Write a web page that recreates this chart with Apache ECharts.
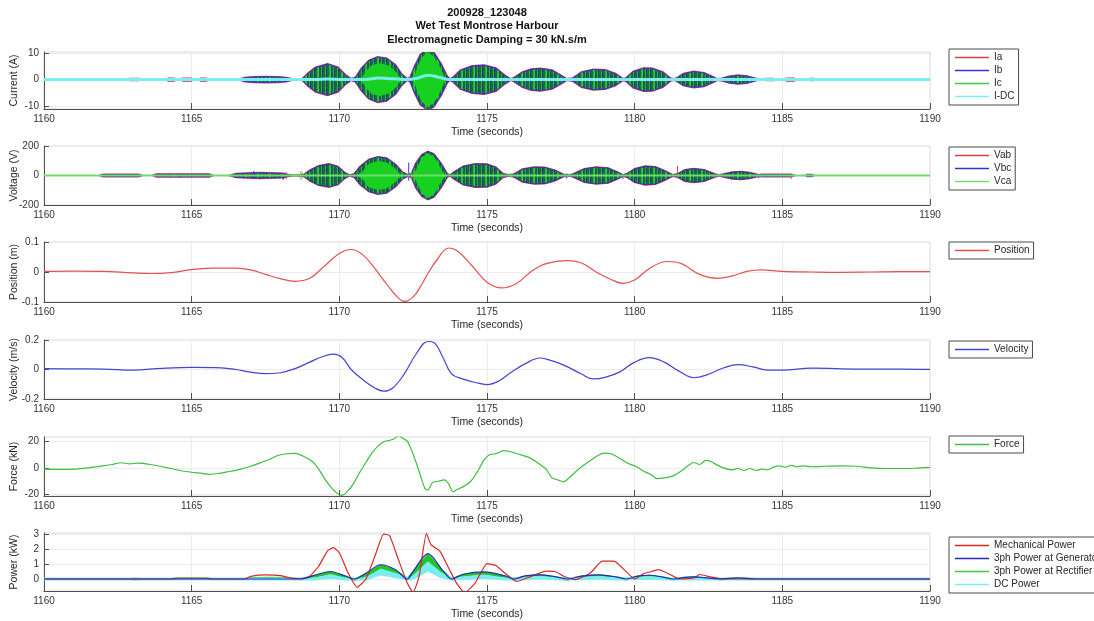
<!DOCTYPE html>
<html>
<head>
<meta charset="utf-8">
<script src="https://cdn.jsdelivr.net/npm/echarts@6/dist/echarts.min.js"></script>
<style>
  html, body { margin: 0; padding: 0; background: #fff; }
  #main { width: 1094px; height: 621px; }
</style>
</head>
<body>
<div id="main"></div>
<script>
// ---- data ----
var timeRange = [1160, 1190];

// current envelope (A): [time, amplitude]
var curEnv = [[1160,0],[1162.85,0],[1162.9,0.3],[1163.2,0.3],[1163.25,0],[1164.15,0],[1164.2,0.4],[1164.4,0.4],[1164.45,0],
  [1164.65,0],[1164.7,0.4],[1165.0,0.4],[1165.05,0],[1165.25,0],[1165.3,0.4],[1165.5,0.4],[1165.55,0],
  [1166.6,0],[1166.8,0.7],[1167.1,1.0],[1167.5,1.1],[1167.9,1.0],[1168.2,0.7],[1168.4,0.2],[1168.55,0],
  [1168.75,0.3],[1168.95,2.5],[1169.2,4.6],[1169.6,5.9],[1169.95,4.6],[1170.2,1.8],[1170.4,0.2],
  [1170.55,0.8],[1170.75,4.2],[1171.0,7.2],[1171.3,8.5],[1171.6,8.0],[1171.9,5.5],[1172.1,2.2],[1172.3,0.2],
  [1172.4,0.8],[1172.55,5],[1172.75,9.5],[1173.0,11.4],[1173.2,10.2],[1173.45,5.8],[1173.65,1.2],[1173.75,0.2],
  [1173.85,0.8],[1174.1,3.5],[1174.5,5.1],[1174.9,5.4],[1175.3,4.3],[1175.6,1.6],[1175.8,0.2],
  [1175.9,0.6],[1176.2,2.8],[1176.5,3.9],[1176.8,4.2],[1177.2,3.5],[1177.5,1.6],[1177.7,0.2],
  [1177.9,0.5],[1178.2,2.8],[1178.6,3.8],[1179.0,3.6],[1179.35,2.2],[1179.6,0.3],
  [1179.7,0.5],[1179.95,3.0],[1180.3,4.3],[1180.6,4.2],[1180.95,2.8],[1181.2,0.6],[1181.3,0.2],
  [1181.4,0.4],[1181.65,2.2],[1182.0,3.0],[1182.35,2.5],[1182.65,1.0],[1182.8,0.2],
  [1182.95,0.4],[1183.2,1.2],[1183.5,1.6],[1183.8,1.3],[1184.1,0.4],[1184.2,0],
  [1184.4,0],[1184.45,0.3],[1184.7,0.3],[1184.75,0],[1185.1,0],[1185.15,0.4],[1185.4,0.4],[1185.45,0],
  [1185.9,0],[1185.95,0.3],[1186.05,0.3],[1186.1,0],[1190,0]];
// solid green core of Ic in the two biggest bursts
var icCore = [[1160,0],[1170.7,0],[1170.9,3],[1171.1,5.5],[1171.4,6.2],[1171.7,5.2],[1171.95,2.5],[1172.1,0],
  [1172.5,0],[1172.65,5],[1172.8,8.5],[1173.0,10.3],[1173.2,8.8],[1173.4,5],[1173.6,0],[1190,0]];
var curDC = [[1160,0],[1169.2,0],[1169.6,0.2],[1170.1,0],[1170.9,0],[1171.3,0.6],[1171.8,0.3],[1172.3,0],
  [1172.6,0.4],[1173.0,1.6],[1173.4,0.8],[1173.7,0],[1190,0]];

// voltage envelope (V)
var voltEnv = [[1160,0],[1161.9,0],[1162.0,6],[1163.2,6],[1163.3,0],[1163.7,0],[1163.8,8],[1165.6,8],[1165.7,0],
  [1166.3,0],[1166.5,12],[1167.3,18],[1168.1,14],[1168.3,4],[1168.5,0],
  [1168.8,5],[1169.0,35],[1169.3,65],[1169.65,78],[1169.95,60],[1170.2,15],[1170.35,2],
  [1170.5,10],[1170.7,60],[1171.0,108],[1171.3,126],[1171.6,118],[1171.9,75],[1172.15,20],[1172.35,2],
  [1172.45,15],[1172.6,85],[1172.8,140],[1173.0,162],[1173.2,145],[1173.45,80],[1173.65,10],[1173.75,2],
  [1173.9,25],[1174.2,62],[1174.6,78],[1175.0,76],[1175.3,55],[1175.55,10],[1175.8,2],
  [1175.95,12],[1176.2,42],[1176.6,56],[1176.95,54],[1177.3,35],[1177.6,5],[1177.8,2],
  [1177.95,12],[1178.3,45],[1178.7,56],[1179.1,50],[1179.45,20],[1179.6,2],
  [1179.75,12],[1180.0,45],[1180.35,62],[1180.7,58],[1181.0,32],[1181.3,3],
  [1181.45,10],[1181.7,38],[1182.0,46],[1182.35,38],[1182.7,10],[1182.85,2],
  [1183.0,8],[1183.3,22],[1183.6,26],[1183.9,18],[1184.2,4],[1184.3,6],[1185.3,6],[1185.4,0],
  [1185.8,0],[1185.85,5],[1186.0,5],[1186.05,0],[1190,0]];
var vcaCore = [[1160,0],[1170.6,0],[1170.8,30],[1171.0,80],[1171.3,98],[1171.6,88],[1171.9,45],[1172.1,0],
  [1172.5,0],[1172.65,60],[1172.8,125],[1173.0,150],[1173.2,130],[1173.4,60],[1173.6,0],[1190,0]];
var vcaBase = [[1160,0],[1190,0]];
// switching spikes: [time, low, high]
var vabSpikes = [[1166.95,-18,15],[1167.6,-10,20],[1168.2,-25,22],[1168.75,-15,18],[1172.5,-28,20],[1181.45,-10,65],[1185.3,-22,5]];
var vbcSpikes = [[1164.6,-15,10],[1166.75,-20,15],[1167.1,-25,30],[1168.1,-30,12],[1172.35,-35,88],[1177.7,-20,15],[1179.6,-25,10],[1184.2,-18,8]];
var vcaSpikes = [[1164.4,-12,12],[1168.7,-30,30],[1169.0,-10,22],[1172.45,-20,25],[1175.8,-15,18]];

// position (m)
var pos = [[1160,0.002],[1161,0.003],[1162,0.002],[1163,-0.003],[1163.6,-0.005],[1164.3,-0.002],[1165,0.008],
  [1165.8,0.013],[1166.5,0.013],[1167,0.007],[1167.5,-0.008],[1168,-0.022],[1168.5,-0.031],[1169,-0.021],
  [1169.5,0.02],[1170,0.062],[1170.4,0.075],[1170.8,0.057],[1171.2,0.012],[1171.6,-0.04],[1172,-0.087],
  [1172.2,-0.098],[1172.5,-0.083],[1172.8,-0.04],[1173.0,-0.005],[1173.3,0.04],[1173.7,0.08],[1174.0,0.07],
  [1174.5,0.02],[1175,-0.034],[1175.5,-0.053],[1176,-0.038],[1176.5,0.002],[1177,0.028],[1177.7,0.038],
  [1178.2,0.03],[1178.7,0.0],[1179.2,-0.025],[1179.6,-0.038],[1180,-0.027],[1180.5,0.012],[1181.1,0.035],
  [1181.6,0.027],[1182.2,-0.008],[1182.8,-0.021],[1183.3,-0.013],[1183.8,0.002],[1184.3,0.007],[1185,0.002],
  [1186,0],[1187,-0.001],[1188,0],[1189,0.001],[1190,0.001]];

// velocity (m/s)
var vel = [[1160,0.006],[1161,0.004],[1162,0.003],[1163,-0.004],[1164,0.008],[1165,0.014],[1166,0.011],
  [1166.5,0],[1167,-0.018],[1167.5,-0.028],[1168,-0.022],[1168.5,0.006],[1169,0.05],[1169.4,0.085],
  [1169.8,0.104],[1170.1,0.08],[1170.4,0.0],[1170.8,-0.07],[1171.2,-0.125],[1171.5,-0.147],[1171.8,-0.127],
  [1172.2,-0.03],[1172.6,0.105],[1173.0,0.19],[1173.2,0.183],[1173.5,0.085],[1173.8,-0.03],[1174.2,-0.065],
  [1174.6,-0.088],[1175,-0.102],[1175.4,-0.078],[1175.8,-0.022],[1176.3,0.04],[1176.8,0.078],[1177.1,0.065],
  [1177.6,0.03],[1178.2,-0.031],[1178.6,-0.064],[1179,-0.053],[1179.5,-0.016],[1180,0.05],[1180.5,0.08],
  [1181,0.05],[1181.5,-0.011],[1182,-0.056],[1182.4,-0.04],[1183,0.01],[1183.5,0.033],[1184,0.018],
  [1184.5,-0.004],[1185,-0.004],[1186,0.01],[1187,0.004],[1188,0.002],[1189,0.003],[1190,0.001]];

// force (kN)
var force = [[1160,-1],[1160.5,-1.2],[1161,-1],[1161.5,0],[1162,1.5],[1162.3,2.5],[1162.6,3.8],[1162.9,3.0],
  [1163.2,3.5],[1163.6,2.5],[1164,0.8],[1164.3,-0.5],[1164.6,-2],[1165,-3.3],[1165.3,-4],[1165.6,-4.8],
  [1165.9,-4.2],[1166.2,-3],[1166.6,-1.3],[1167,1.2],[1167.3,3.5],[1167.6,6],[1167.9,9],[1168.2,10.5],
  [1168.5,10.8],[1168.8,8.5],[1169.1,4.5],[1169.3,-1],[1169.5,-8],[1169.7,-14],[1169.9,-18.5],[1170.1,-20.5],
  [1170.3,-17],[1170.5,-11],[1170.7,-3],[1170.9,4],[1171.1,11],[1171.3,16],[1171.5,19.5],[1171.7,20.5],
  [1171.85,21.5],[1172,24],[1172.15,22],[1172.3,20],[1172.45,13],[1172.6,4],[1172.75,-6],[1172.9,-15.5],
  [1173.0,-16.5],[1173.15,-11],[1173.35,-10],[1173.55,-9],[1173.7,-12],[1173.85,-18],[1174.0,-16],
  [1174.2,-14],[1174.45,-10],[1174.7,-2],[1174.9,6],[1175.1,10],[1175.3,10.5],[1175.55,12.8],[1175.8,12],
  [1176.1,10],[1176.4,8],[1176.7,4],[1177.0,-1],[1177.2,-7.5],[1177.4,-9],[1177.6,-10.5],[1177.8,-7],
  [1178.1,-1],[1178.4,4],[1178.7,8.5],[1178.95,11],[1179.2,10.5],[1179.5,7],[1179.8,3],[1180.05,1],
  [1180.3,-2.5],[1180.55,-5],[1180.75,-8],[1181.0,-7.5],[1181.3,-6],[1181.6,-2],[1181.8,1.5],[1182.0,4],
  [1182.2,2.5],[1182.4,5.5],[1182.6,4.5],[1182.8,2],[1183.0,0],[1183.3,-1.5],[1183.5,-0.5],[1183.7,-2],
  [1183.9,-0.5],[1184.1,-2],[1184.3,-1],[1184.5,-1.5],[1184.7,0.5],[1184.9,1.5],[1185.1,0.5],[1185.3,1.8],
  [1185.5,0.8],[1185.7,1.5],[1186,0.8],[1186.5,1.2],[1187,1.5],[1187.5,1.2],[1188,0],[1188.5,-0.5],
  [1189,-0.5],[1189.5,-0.3],[1190,0.3]];

// power (kW)
var mechPower = [[1160,0],[1164.3,0],[1164.5,0.05],[1165.5,0.05],[1165.7,0],[1166.8,0],[1167.0,0.18],[1167.5,0.27],
  [1168.0,0.22],[1168.5,0.02],[1168.8,0.05],[1169.0,0.18],[1169.3,0.85],[1169.6,1.87],[1169.8,2.09],[1170.0,1.75],
  [1170.3,0.4],[1170.6,-0.55],[1170.9,0],[1171.2,1.5],[1171.5,3.0],[1171.7,2.9],[1172.0,1.3],[1172.3,-0.27],
  [1172.5,-0.9],[1172.7,0.18],[1172.95,3.05],[1173.1,2.3],[1173.4,1.87],[1173.7,0.74],[1174.0,-0.38],
  [1174.25,-0.9],[1174.6,-0.27],[1175.0,1.03],[1175.3,0.9],[1175.6,0.4],[1176.0,-0.16],[1176.5,0.18],
  [1177.0,0.52],[1177.3,0.5],[1177.6,0.18],[1178.0,-0.04],[1178.5,0.4],[1178.9,1.19],[1179.3,1.19],
  [1179.7,0.52],[1180.0,0],[1180.3,0.36],[1180.6,0.52],[1180.8,0.63],[1181.2,0.3],[1181.5,0],[1182.0,0.07],
  [1182.2,0.3],[1182.6,0.13],[1183.0,0],[1190,0]];
var genPower = [[1160,0],[1168.7,0],[1169.2,0.27],[1169.7,0.5],[1170.2,0.2],[1170.5,0],[1170.9,0.38],[1171.4,0.95],
  [1171.9,0.62],[1172.3,0],[1172.5,0.52],[1173.0,1.7],[1173.5,0.58],[1173.8,0],[1174.2,0.32],[1174.9,0.47],
  [1175.6,0.22],[1175.9,0],[1176.3,0.21],[1176.8,0.28],[1177.3,0.16],[1177.7,0],[1178.2,0.19],[1178.8,0.28],
  [1179.4,0.13],[1179.7,0],[1180.1,0.19],[1180.5,0.25],[1181.0,0.11],[1181.3,0],[1181.7,0.11],[1182.0,0.14],
  [1182.5,0.06],[1182.9,0],[1183.5,0.08],[1184.1,0],[1190,0]];
// [time, low, high] of the ripple band
var rectBand = [[1160,0,0],[1162.9,0,0],[1163.0,-0.04,0.04],[1163.2,-0.04,0.04],[1163.3,0,0],[1164.3,0,0],
  [1164.5,0,0.06],[1165.5,0,0.06],[1165.7,0,0],[1166.7,0,0],[1167.0,0.02,0.08],[1167.6,0.04,0.1],[1168.3,0.03,0.08],
  [1168.7,-0.03,0.02],[1169.2,0.15,0.25],[1169.7,0.37,0.47],[1170.2,0.1,0.18],[1170.5,-0.08,-0.02],[1170.9,0.2,0.35],
  [1171.4,0.55,0.92],[1171.9,0.4,0.6],[1172.3,-0.05,0.02],[1172.5,0.3,0.5],[1173.0,1.05,1.65],[1173.5,0.35,0.55],
  [1173.8,-0.05,0.02],[1174.2,0.2,0.3],[1174.9,0.33,0.45],[1175.6,0.12,0.2],[1175.9,-0.07,0],[1176.3,0.12,0.2],
  [1176.8,0.2,0.27],[1177.3,0.08,0.15],[1177.7,-0.06,0],[1178.2,0.1,0.18],[1178.8,0.2,0.27],[1179.4,0.06,0.12],
  [1179.7,-0.05,0],[1180.1,0.1,0.18],[1180.5,0.17,0.24],[1181.0,0.05,0.1],[1181.3,-0.04,0],[1181.7,0.05,0.1],
  [1182.0,0.08,0.13],[1182.5,0.02,0.05],[1182.9,-0.03,0],[1183.5,0.03,0.07],[1184.1,-0.02,0],[1184.3,0,0],[1190,0,0]];
var dcBand = [[1160,0,0],[1169.2,0,0],[1169.7,0.12,0.2],[1170.2,0,0],[1170.9,0,0],[1171.4,0.35,0.6],[1171.9,0.15,0.3],
  [1172.4,0,0],[1172.6,0.15,0.3],[1173.0,0.6,1.05],[1173.4,0.2,0.4],[1173.8,0,0],[1174.3,0.05,0.1],[1174.9,0.12,0.2],
  [1175.6,0,0],[1176.2,0.02,0.05],[1176.8,0.06,0.12],[1177.4,0,0],[1178.2,0.02,0.05],[1178.8,0.06,0.12],
  [1179.4,0,0],[1180.0,0.02,0.05],[1180.5,0.05,0.1],[1181.1,0,0],[1190,0,0]];

// axis tick labels
var curTicks = [-10, 0, 10];
var voltTicks = [-200, 0, 200];
var posTicks = [-0.1, 0, 0.1];
var velTicks = [-0.2, 0, 0.2];
var forceTicks = [-20, 0, 20];
var powTicks = [0, 1, 2, 3];

// ---- chart ----
var FONT = 'Liberation Sans';
var RED = '#e23c3c', BLUE = '#3434d2', GREEN = '#3cc83c', CYAN = '#7aeeee';
var dom = document.getElementById('main');
var myChart = echarts.init(dom, null, { renderer: 'canvas' });

// speckled fill that stands in for the dense three-phase oscillation
function speckle(rows, palette) {
    var c = document.createElement('canvas');
    c.width = rows[0].length; c.height = rows.length;
    var g = c.getContext('2d');
    rows.forEach(function (row, y) {
        row.split('').forEach(function (ch, x) { g.fillStyle = palette[ch]; g.fillRect(x, y, 1, 1); });
    });
    return { image: c, repeat: 'repeat' };
}
var burstFill = speckle([
    'dgntdgbdtgnd',
    'dgntdbgdtgnd',
    'dgdtdgbntgdd',
    'dbntdgbdtgnd',
    'dgntdgbdngtd'
], { n: '#1f3380', d: '#1b6a3c', g: '#22b52c', t: '#1f5f5f', b: '#2ccc3a' });

function envRows(env) { return env.map(function (p) { return [p[0], -p[1], p[1]]; }); }

// split a band into the runs where it has some height, so flat parts draw nothing
function runs(rows) {
    var out = [], cur = null;
    rows.forEach(function (r, i) {
        if (r[1] !== r[2]) {
            if (!cur) cur = i > 0 ? [rows[i - 1]] : [];
            cur.push(r);
        } else if (cur) {
            cur.push(r); out.push(cur); cur = null;
        }
    });
    if (cur) out.push(cur);
    return out;
}

function band(name, idx, rows, fill, stroke, lw, color, split) {
    var parts = split ? runs(rows) : [rows];
    return {
        name: name, type: 'custom', xAxisIndex: idx, yAxisIndex: idx, clip: true, silent: true,
        itemStyle: { color: color },
        encode: { x: 0, y: 2 },
        data: rows,
        renderItem: function (params, api) {
            if (params.dataIndex !== 0) return null;
            return {
                type: 'group',
                children: parts.map(function (part) {
                    var top = part.map(function (r) { return api.coord([r[0], r[2]]); });
                    var bot = part.map(function (r) { return api.coord([r[0], r[1]]); }).reverse();
                    return { type: 'polygon', shape: { points: top.concat(bot) },
                             style: { fill: fill, stroke: stroke, lineWidth: lw } };
                })
            };
        }
    };
}

function spikes(name, idx, rows, color) {
    return {
        name: name, type: 'custom', xAxisIndex: idx, yAxisIndex: idx, clip: true, silent: true,
        itemStyle: { color: color },
        encode: { x: 0, y: 2 },
        data: rows,
        renderItem: function (params, api) {
            var a = api.coord([api.value(0), api.value(1)]);
            var b = api.coord([api.value(0), api.value(2)]);
            return { type: 'line', shape: { x1: a[0], y1: a[1], x2: b[0], y2: b[1] },
                     style: { stroke: color, lineWidth: 1 } };
        }
    };
}

function line(name, idx, data, color, width, smooth) {
    return {
        name: name, type: 'line', xAxisIndex: idx, yAxisIndex: idx, data: data,
        showSymbol: false, symbol: 'none', smooth: smooth, silent: true,
        itemStyle: { color: color }, lineStyle: { color: color, width: width }
    };
}

var panels = [
    { top: 52, height: 57, min: -11.1, max: 10.4, ticks: curTicks, name: 'Current (A)' },
    { top: 146, height: 59, min: -200, max: 200, ticks: voltTicks, name: 'Voltage (V)' },
    { top: 242, height: 60, min: -0.1, max: 0.1, ticks: posTicks, name: 'Position (m)' },
    { top: 340, height: 59, min: -0.2, max: 0.2, ticks: velTicks, name: 'Velocity (m/s)' },
    { top: 437, height: 59, min: -21, max: 23, ticks: forceTicks, name: 'Force (kN)' },
    { top: 533, height: 58, min: -0.8, max: 3.07, ticks: powTicks, name: 'Power (kW)' }
];
var legendNames = [
    ['Ia', 'Ib', 'Ic', 'I-DC'],
    ['Vab', 'Vbc', 'Vca'],
    ['Position'],
    ['Velocity'],
    ['Force'],
    ['Mechanical Power', '3ph Power at Generator', '3ph Power at Rectifier', 'DC Power']
];
var legendTops = [49, 147, 242, 341, 436, 537];

var grid = [], xAxis = [], yAxis = [], legend = [];
panels.forEach(function (p, i) {
    grid.push({ left: 44, width: 886, top: p.top, height: p.height, show: true,
                containLabel: false, outerBoundsMode: 'none',
                borderColor: '#dadada', borderWidth: 1, backgroundColor: '#fff' });
    xAxis.push({
        type: 'value', gridIndex: i, min: timeRange[0], max: timeRange[1], interval: 5,
        name: 'Time (seconds)', nameLocation: 'middle', nameGap: 18, nameMoveOverlap: false,
        nameTextStyle: { fontSize: 10.5, color: '#262626', fontFamily: FONT },
        axisLine: { onZero: false, lineStyle: { color: '#505050', width: 1 } },
        axisTick: { inside: true, length: 6, lineStyle: { color: '#505050' } },
        axisLabel: { fontSize: 10, color: '#333', fontFamily: FONT, margin: 5,
                     formatter: function (v) { return String(v); } },
        splitLine: { show: true, lineStyle: { color: '#ebebeb', width: 1 } }
    });
    yAxis.push({
        type: 'value', gridIndex: i, min: p.min, max: p.max,
        name: p.name, nameLocation: 'middle', nameGap: 24, nameMoveOverlap: false,
        nameTextStyle: { fontSize: 10.5, color: '#262626', fontFamily: FONT },
        axisLine: { show: true, onZero: false, lineStyle: { color: '#505050', width: 1 } },
        axisTick: { show: true, inside: true, length: 5, customValues: p.ticks, lineStyle: { color: '#505050' } },
        axisLabel: { fontSize: 10, color: '#333', fontFamily: FONT, margin: 5, customValues: p.ticks },
        splitLine: { show: true, lineStyle: { color: '#ebebeb', width: 1 } }
    });
    legend.push({
        orient: 'vertical', left: 949, top: legendTops[i], data: legendNames[i],
        icon: 'rect', itemWidth: 34, itemHeight: 1.5, itemGap: 0, padding: [2, 4, 2, 6],
        borderColor: '#4a4a4a', borderWidth: 1, backgroundColor: '#fff', selectedMode: false,
        textStyle: { fontSize: 10, color: '#262626', fontFamily: FONT, lineHeight: 13 }
    });
});

var series = [
    // current
    band('Ia', 0, envRows(curEnv), 'none', '#d8306a', 2, RED, true),
    band('Ib', 0, envRows(curEnv), burstFill, BLUE, 1, BLUE, true),
    band('Ic', 0, envRows(icCore), '#17d01f', 'none', 0, GREEN, true),
    line('I-DC', 0, curDC, CYAN, 3, 0.3),
    // voltage
    line('Vca', 1, vcaBase, '#6fdc6f', 2, false),
    band('Vab', 1, envRows(voltEnv), 'none', '#d8306a', 2, RED, true),
    band('Vbc', 1, envRows(voltEnv), burstFill, '#2a3aa8', 1, BLUE, true),
    band('Vca', 1, envRows(vcaCore), '#17d01f', 'none', 0, GREEN, true),
    spikes('Vab', 1, vabSpikes, RED),
    spikes('Vbc', 1, vbcSpikes, BLUE),
    spikes('Vca', 1, vcaSpikes, GREEN),
    // position, velocity, force
    line('Position', 2, pos, '#e65050', 1.2, 0.4),
    line('Velocity', 3, vel, '#4343d6', 1.2, 0.4),
    line('Force', 4, force, '#3cbf3c', 1.2, 0.2),
    // power
    line('Mechanical Power', 5, mechPower, '#dc2626', 1.2, 0.15),
    line('3ph Power at Generator', 5, genPower, '#2a2ab8', 1.2, 0.3),
    band('3ph Power at Rectifier', 5, rectBand, '#22c422', '#22c422', 1.5, GREEN, false),
    band('DC Power', 5, dcBand, CYAN, CYAN, 3, CYAN, false)
];

option = {
    animation: false,
    backgroundColor: '#fff',
    textStyle: { fontFamily: FONT },
    title: {
        text: '200928_123048\nWet Test Montrose Harbour\nElectromagnetic Damping = 30 kN.s/m',
        left: 487, top: 6, padding: 0, textAlign: 'center',
        textStyle: { fontSize: 11, fontWeight: 'bold', color: '#111', fontFamily: FONT, lineHeight: 13.5 }
    },
    grid: grid,
    xAxis: xAxis,
    yAxis: yAxis,
    legend: legend,
    series: series
};

if (option && typeof option === 'object') {
    myChart.setOption(option, true);
}
</script>
</body>
</html>
